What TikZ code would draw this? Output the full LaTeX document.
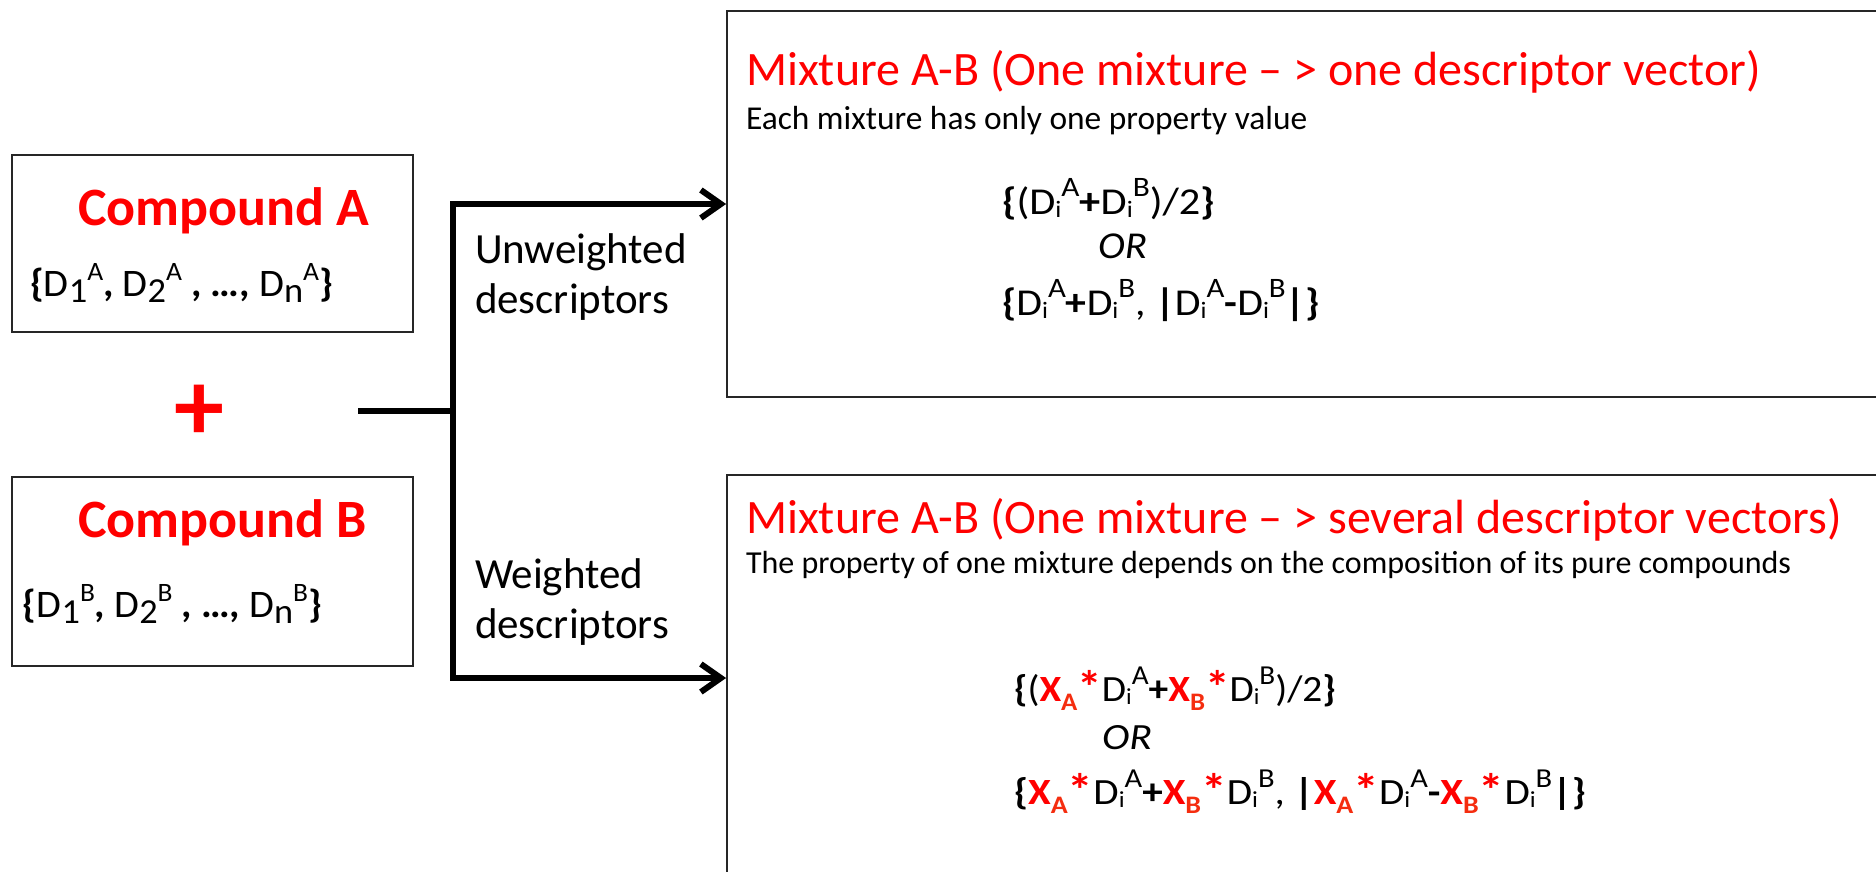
\documentclass[tikz,border=0pt]{standalone}
\usepackage{graphicx}
\usepackage{fontspec}
\setmainfont{Carlito}
\usetikzlibrary{arrows.meta}
\definecolor{subred}{RGB}{245,45,15}
\newcommand\fsz[1]{\fontsize{#1}{#1}\selectfont}
\newdimen\scrdim
\makeatletter
% \scr{scale}{raise}{text}
\newcommand\scr[3]{{\scrdim=\f@size pt\relax \scrdim=#1\scrdim
  \raisebox{#2}{\fontsize{\strip@pt\scrdim}{\strip@pt\scrdim}\selectfont #3}}}
\makeatother
% stretched line: \wline{width}{text}
\newcommand\wline[2]{\resizebox{#1}{\height}{#2}}
\newcommand\Dc[2]{D\scr{0.9}{-0.17em}{#1}\scr{0.68}{0.4em}{#2}}
\newcommand\Ds[2]{D\scr{0.62}{-0.1em}{#1}\scr{0.74}{0.45em}{#2}}
\newcommand\Xw[1]{\textcolor{red}{\textbf{X}}\scr{0.68}{-0.25em}{\textcolor{subred}{\textbf{#1}}}\textcolor{red}{\scr{1.25}{-0.08em}{\textbf{*}}}}
\tikzset{
  box/.style={draw=black!85, line width=1.8, minimum width=#1},
  conn/.style={draw=black, line width=6},
  arr/.style={-{Straight Barb[length=20,width=28,line width=6]}},
  txt/.style={anchor=base west, inner sep=0, outer sep=0},
}
\begin{document}
\begin{tikzpicture}[x=1pt,y=-1pt]
\clip (0,0) rectangle (1876,872);
\fill[white] (0,0) rectangle (1876,872);
% boxes
\node[box=401, minimum height=177] (ca) at (212.5,243.5) {};
\node[box=401, minimum height=189] (cb) at (212.5,571.5) {};
\node[box=1163, minimum height=386] (mt) at (1308.5,204) {};
\node[box=1163, minimum height=406] (mb) at (1308.5,678) {};
% compound texts
\node[txt] (catitle) at (78,225) {\fsz{54}\color{red}\bfseries Compound A};
\node[txt] (calist) at (30,296) {\fsz{39}\wline{303pt}{\textbf{\{}\Dc{1}{A}\textbf{,} \Dc{2}{A} \textbf{, …,} \Dc{n}{A}\textbf{\}}}};
\node[txt] (cbtitle) at (78,537) {\fsz{54}\color{red}\bfseries Compound B};
\node[txt] (cblist) at (23,617) {\fsz{39}\wline{299pt}{\textbf{\{}\Dc{1}{B}\textbf{,} \Dc{2}{B} \textbf{, …,} \Dc{n}{B}\textbf{\}}}};
\node[inner sep=0] (plus) at (199,413) {\fsz{100}\color{red}\bfseries +};
% connectors
\coordinate (start) at (358,411);
\coordinate (jn) at (453,411);
\draw[conn] (start) -- (jn);
\draw[conn,arr] (jn) |- (mt.west);
\draw[conn,arr] (jn) |- (mb.west);
% branch labels
\node[txt] (uw1) at (475,263) {\fsz{43}Unweighted};
\node[txt] (uw2) at (475,313) {\fsz{43}descriptors};
\node[txt] (w1) at (475,588) {\fsz{43}Weighted};
\node[txt] (w2) at (475,638) {\fsz{43}descriptors};
% top mixture
\node[txt] (tt) at (746,86) {\fsz{48}\color{red}Mixture A-B (One mixture – > one descriptor vector)};
\node[txt] (ts) at (746,130) {\fsz{33.4}Each mixture has only one property value};
\node[txt] (tf1) at (1002,214) {\fsz{38}\wline{213pt}{\textbf{\{}(\Ds{i}{A}\textbf{+}\Ds{i}{B})/2\textbf{\}}}};
\node[txt] (tor) at (1098,258) {\fsz{38}\wline{49pt}{\itshape OR}};
\node[txt] (tf2) at (1002,315) {\fsz{38}\wline{318pt}{\textbf{\{}\Ds{i}{A}\textbf{+}\Ds{i}{B}, \textbf{|}\Ds{i}{A}\textbf{-}\Ds{i}{B}\textbf{|\}}}};
% bottom mixture
\node[txt] (bt) at (746,533) {\fsz{48}\color{red}Mixture A-B (One mixture – > several descriptor vectors)};
\node[txt] (bs) at (746,573) {\fsz{32}The property of one mixture depends on the composition of its pure compounds};
\node[txt] (bf1) at (1014,701) {\fsz{37}\wline{322pt}{\textbf{\{}(\Xw{A}\Ds{i}{A}\textbf{+}\Xw{B}\Ds{i}{B})/2\textbf{\}}}};
\node[txt] (bor) at (1102,749) {\fsz{37}\wline{50pt}{\itshape OR}};
\node[txt] (bf2) at (1014,804) {\fsz{37}\wline{572pt}{\textbf{\{}\Xw{A}\Ds{i}{A}\textbf{+}\Xw{B}\Ds{i}{B}, \textbf{|}\Xw{A}\Ds{i}{A}\textbf{-}\Xw{B}\Ds{i}{B}\textbf{|\}}}};
\end{tikzpicture}
\end{document}
